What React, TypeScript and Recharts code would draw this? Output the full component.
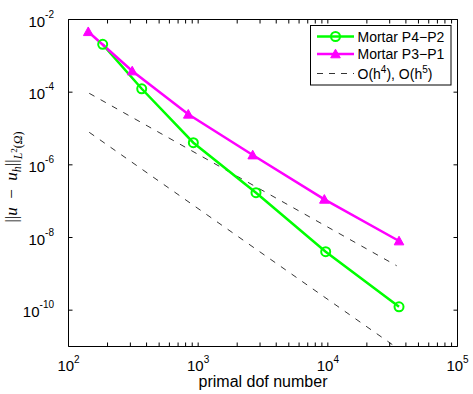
import React from "react";
import { LineChart, Line, XAxis, YAxis, Legend, Label } from "recharts";

const dofP42 = [183.5, 367, 918, 2793, 9627, 35400];
const errP42 = [2.07e-3, 1.24e-4, 4.06e-6, 1.71e-7, 4.06e-9, 1.24e-10];
const dofP31 = [142, 310, 839, 2634, 9400, 35400];
const errP31 = [4.6e-3, 3.82e-4, 2.46e-5, 1.86e-6, 1.12e-7, 8.0e-9];
const refDof = [144.5, 33950];
const refH4 = [9.3e-5, 1.67e-9];
const refH5 = [7.85e-6, 9.3e-12];

const xMajor = [100, 1000, 10000, 100000];
const xTicks = [
  100, 200, 300, 400, 500, 600, 700, 800, 900,
  1000, 2000, 3000, 4000, 5000, 6000, 7000, 8000, 9000,
  10000, 20000, 30000, 40000, 50000, 60000, 70000, 80000, 90000,
  100000,
];
const yTicks = [1e-10, 1e-8, 1e-6, 1e-4, 1e-2];

const GREEN = "#00ff00";
const MAGENTA = "#ff00ff";
const SANS = "'Liberation Sans', Arial, Helvetica, sans-serif";
const SERIF = "'Liberation Serif', 'DejaVu Serif', serif";

const zip = (xs: number[], ys: number[]) => xs.map((x, i) => ({ x, y: ys[i] }));
const p42 = zip(dofP42, errP42);
const p31 = zip(dofP31, errP31);
const h4 = zip(refDof, refH4);
const h5 = zip(refDof, refH5);

const expOf = (v: number) => Math.round(Math.log10(v));

const BottomTick = (props: any) => {
  const { x, y, payload } = props;
  const v = payload.value;
  const major = xMajor.some((m) => Math.abs(m - v) < 1e-6 * m);
  return (
    <g>
      <line x1={x} x2={x} y1={y} y2={y - 4} stroke="#000" strokeWidth={1} />
      {major && (
        <text x={x} y={y + 24.5} textAnchor="middle" fontFamily={SANS} fontSize={15} fill="#000">
          10
          <tspan dy={-8} fontSize={10}>{String(expOf(v))}</tspan>
        </text>
      )}
    </g>
  );
};

const TopTick = (props: any) => {
  const { x, y } = props;
  return <line x1={x} x2={x} y1={y} y2={y + 4} stroke="#000" strokeWidth={1} />;
};

const LeftTick = (props: any) => {
  const { x, y, payload } = props;
  const v = payload.value;
  return (
    <g>
      <line x1={x} x2={x + 4} y1={y} y2={y} stroke="#000" strokeWidth={1} />
      <text x={x - 14.5} y={y + 7} textAnchor="end" fontFamily={SANS} fontSize={15} fill="#000">
        10
        <tspan dy={-9} fontSize={10}>{String(expOf(v))}</tspan>
      </text>
    </g>
  );
};

const RightTick = (props: any) => {
  const { x, y } = props;
  return <line x1={x} x2={x - 4} y1={y} y2={y} stroke="#000" strokeWidth={1} />;
};

const CircleDot = (props: any) => {
  const { cx, cy, index } = props;
  if (cx == null || cy == null) return <g key={`c${index}`} />;
  return <circle key={`c${index}`} cx={cx} cy={cy} r={4.5} fill="none" stroke={GREEN} strokeWidth={2} />;
};

const TriDot = (props: any) => {
  const { cx, cy, index } = props;
  if (cx == null || cy == null) return <g key={`t${index}`} />;
  const s = 4.8;
  const d = `M${cx},${cy - s} L${cx + s},${cy + s * 0.8} L${cx - s},${cy + s * 0.8} Z`;
  return <path key={`t${index}`} d={d} fill={MAGENTA} stroke={MAGENTA} strokeWidth={1} />;
};

const YLabel = () => (
  <text
    transform="translate(17,177) rotate(-90)"
    textAnchor="middle"
    fontFamily={SERIF}
    fontSize={17}
    fill="#000"
  >
    <tspan>||</tspan>
    <tspan fontStyle="italic">u</tspan>
    <tspan>{"\u2002\u2212\u2002"}</tspan>
    <tspan fontStyle="italic">u</tspan>
    <tspan dy={3.5} fontSize={12} fontStyle="italic">h</tspan>
    <tspan dy={-3.5}>||</tspan>
    <tspan dy={5} fontSize={12} fontStyle="italic">L</tspan>
    <tspan dy={-5} fontSize={9}>2</tspan>
    <tspan dy={5} fontSize={12}>(</tspan>
    <tspan fontSize={12} fontStyle="italic">Ω</tspan>
    <tspan fontSize={12}>)</tspan>
  </text>
);

const LegendBox = () => (
  <svg width={142} height={61} style={{ display: "block" }}>
    <rect x={0.5} y={0.5} width={140.5} height={59.5} fill="#fff" stroke="#000" strokeWidth={1} />
    <line x1={7} x2={44} y1={11.5} y2={11.5} stroke={GREEN} strokeWidth={2.5} />
    <circle cx={25.5} cy={11.5} r={4.5} fill="none" stroke={GREEN} strokeWidth={2} />
    <text x={47.5} y={16.5} fontFamily={SANS} fontSize={14} fill="#000">Mortar P4−P2</text>
    <line x1={7} x2={44} y1={29} y2={29} stroke={MAGENTA} strokeWidth={2.5} />
    <path d="M25.5,24.2 L30.3,32.8 L20.7,32.8 Z" fill={MAGENTA} stroke={MAGENTA} strokeWidth={1} />
    <text x={47.5} y={34} fontFamily={SANS} fontSize={14} fill="#000">Mortar P3−P1</text>
    <line x1={7} x2={44} y1={48.5} y2={48.5} stroke="#000" strokeWidth={0.8} strokeDasharray="6 6" />
    <text x={47.5} y={54} fontFamily={SANS} fontSize={14} fill="#000">
      O(h<tspan dy={-6} fontSize={10}>4</tspan>
      <tspan dy={6}>), O(h</tspan>
      <tspan dy={-6} fontSize={10}>5</tspan>
      <tspan dy={6}>)</tspan>
    </text>
  </svg>
);

export default function App() {
  return (
    <div style={{ position: "absolute", left: 0, top: 0, width: 473, height: 394, background: "#fff" }}>
      <LineChart width={473} height={394} margin={{ top: 0, right: 0, bottom: 0, left: 0 }}>
        <XAxis
          xAxisId={0}
          dataKey="x"
          type="number"
          scale="log"
          domain={[100, 100000]}
          allowDataOverflow
          ticks={xTicks}
          interval={0}
          tick={<BottomTick />}
          tickLine={false}
          tickSize={0}
          tickMargin={0}
          height={47.5}
          axisLine={{ stroke: "#000", strokeWidth: 1 }}
        >
          <Label
            content={() => (
              <text x={263} y={387} textAnchor="middle" fontFamily={SANS} fontSize={16} fill="#000">
                primal dof number
              </text>
            )}
          />
        </XAxis>
        <XAxis
          xAxisId="top"
          orientation="top"
          dataKey="x"
          type="number"
          scale="log"
          domain={[100, 100000]}
          allowDataOverflow
          ticks={xTicks}
          interval={0}
          tick={<TopTick />}
          tickLine={false}
          tickSize={0}
          tickMargin={0}
          height={19.5}
          axisLine={{ stroke: "#000", strokeWidth: 1 }}
        />
        <YAxis
          yAxisId={0}
          type="number"
          scale="log"
          domain={[1e-11, 1e-2]}
          allowDataOverflow
          ticks={yTicks}
          interval={0}
          tick={<LeftTick />}
          tickLine={false}
          tickSize={0}
          tickMargin={0}
          width={68.5}
          axisLine={{ stroke: "#000", strokeWidth: 1 }}
        >
          <Label content={() => <YLabel />} />
        </YAxis>
        <YAxis
          yAxisId="right"
          orientation="right"
          type="number"
          scale="log"
          domain={[1e-11, 1e-2]}
          allowDataOverflow
          ticks={yTicks}
          interval={0}
          tick={<RightTick />}
          tickLine={false}
          tickSize={0}
          tickMargin={0}
          width={15.5}
          axisLine={{ stroke: "#000", strokeWidth: 1 }}
        />
        <Line
          data={h4}
          dataKey="y"
          stroke="#000"
          strokeWidth={0.8}
          strokeDasharray="6 7"
          dot={false}
          isAnimationActive={false}
          legendType="none"
        />
        <Line
          data={h5}
          dataKey="y"
          stroke="#000"
          strokeWidth={0.8}
          strokeDasharray="6 7"
          dot={false}
          isAnimationActive={false}
          legendType="none"
        />
        <Line
          data={p42}
          dataKey="y"
          stroke={GREEN}
          strokeWidth={2.5}
          dot={CircleDot}
          isAnimationActive={false}
        />
        <Line
          data={p31}
          dataKey="y"
          stroke={MAGENTA}
          strokeWidth={2.5}
          dot={TriDot}
          isAnimationActive={false}
        />
        <Legend
          layout="horizontal"
          verticalAlign="middle"
          align="center"
          content={() => <LegendBox />}
          wrapperStyle={{ position: "absolute", left: 310, top: 25, width: 142, height: 61 }}
        />
      </LineChart>
    </div>
  );
}
